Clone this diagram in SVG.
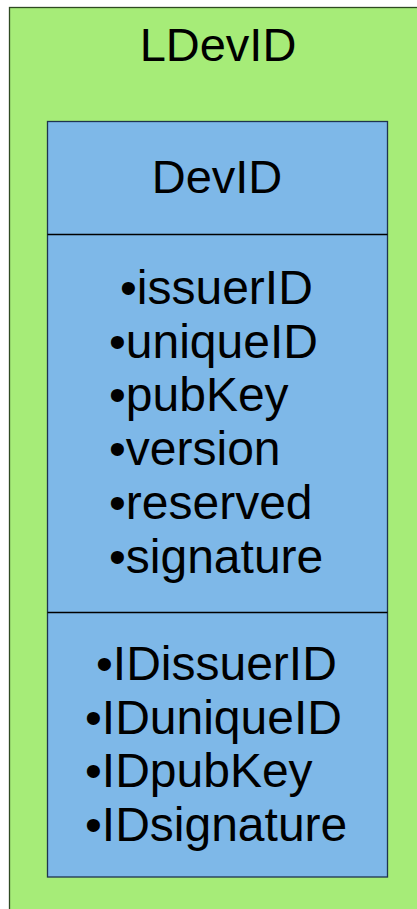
<svg xmlns="http://www.w3.org/2000/svg" width="417" height="909" viewBox="0 0 417 909">
<style>
text{font-family:"Liberation Sans",Arial,sans-serif;fill:#000}
.t{font-size:47px;text-anchor:middle}
.i{font-size:48px}
</style>
<rect width="417" height="909" fill="#ffffff"/>
<g id="LDevID">
<rect x="9.5" y="7.5" width="420" height="920" fill="#a6ec78" stroke="#2f4a22" stroke-width="1.3"/>
<text class="t" x="218" y="61">LDevID</text>
</g>
<g id="DevID">
<rect x="47.5" y="121.5" width="340" height="755.5" fill="#7eb8e8" stroke="#1e3450" stroke-width="1.3"/>
<line x1="47.5" y1="234.5" x2="387.5" y2="234.5" stroke="#000" stroke-width="1.3"/>
<line x1="47.5" y1="612.5" x2="387.5" y2="612.5" stroke="#000" stroke-width="1.3"/>
<text class="t" x="217" y="193">DevID</text>
<text class="i" x="120" y="304">•issuerID</text>
<text class="i" x="109" y="357.7">•uniqueID</text>
<text class="i" x="109" y="411.4">•pubKey</text>
<text class="i" x="109" y="465.1">•version</text>
<text class="i" x="109" y="518.8">•reserved</text>
<text class="i" x="109" y="572.5">•signature</text>
<text class="i" x="96" y="680">•IDissuerID</text>
<text class="i" x="85" y="733.7">•IDuniqueID</text>
<text class="i" x="85" y="787.4">•IDpubKey</text>
<text class="i" x="85" y="841.1">•IDsignature</text>
</g>
<g id="connectors"/>
</svg>
